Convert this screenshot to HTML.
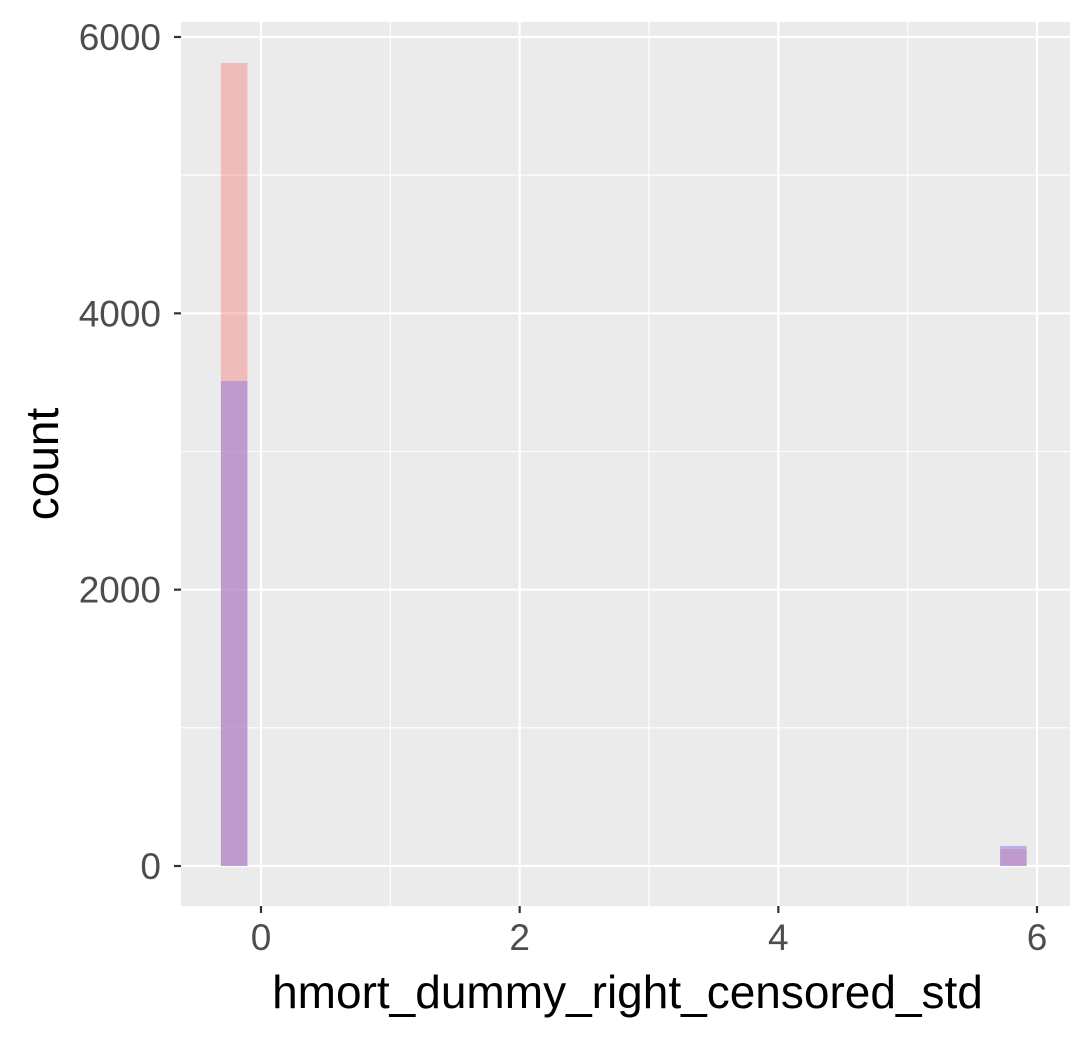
<!DOCTYPE html>
<html><head><meta charset="utf-8"><style>
body{margin:0;background:#fff}
svg text{font-family:"Liberation Sans",sans-serif}
</style></head><body>
<svg id="chart" width="1090" height="1040"></svg>
<script>
const binStarts=[-0.31,5.715];
const binWidth=0.205;
const series1Counts=[5812,123];
const series2Counts=[3510,145];
const xTicks=[0,2,4,6];
const yTicks=[0,2000,4000,6000];
const X0=181,X1=1070,Y0=22,Y1=906;
const xs=v=>261+(v-0)*(1037-261)/6;
const ys=v=>866-v*(866-37)/6000;
const svg=document.getElementById('chart');
const NS='http://www.w3.org/2000/svg';
function mk(t,a,p){const e=document.createElementNS(NS,t);for(const k in a)e.setAttribute(k,a[k]);(p||svg).appendChild(e);return e;}
const bg=mk('rect',{x:X0,y:Y0,width:X1-X0,height:Y1-Y0,fill:'#EBEBEB'});


[1,3,5].forEach(v=>{const l=mk('line',{x1:xs(v),x2:xs(v),y1:Y0,y2:Y1,stroke:'#fff','stroke-width':1.1});

});
[1000,3000,5000].forEach(v=>{const l=mk('line',{x1:X0,x2:X1,y1:ys(v),y2:ys(v),stroke:'#fff','stroke-width':1.1});

});
xTicks.forEach(v=>{const l=mk('line',{x1:xs(v),x2:xs(v),y1:Y0,y2:Y1,stroke:'#fff','stroke-width':2.2});


const t=mk('line',{x1:xs(v),x2:xs(v),y1:Y1,y2:Y1+7,stroke:'#333','stroke-width':2.2});


const tx=mk('text',{x:xs(v),y:Y1+44,'text-anchor':'middle','font-size':37,fill:'#4D4D4D'});tx.textContent=v;

});
yTicks.forEach(v=>{const l=mk('line',{x1:X0,x2:X1,y1:ys(v),y2:ys(v),stroke:'#fff','stroke-width':2.2});


const t=mk('line',{x1:X0-7,x2:X0,y1:ys(v),y2:ys(v),stroke:'#333','stroke-width':2.2});


const tx=mk('text',{x:X0-20,y:ys(v)+13,'text-anchor':'end','font-size':37,fill:'#4D4D4D'});tx.textContent=v;

});
binStarts.forEach((b,i)=>{const r=mk('rect',{x:xs(b),width:xs(b+binWidth)-xs(b),y:ys(series1Counts[i]),height:ys(0)-ys(series1Counts[i]),fill:'rgb(248,118,109)','fill-opacity':0.4});

});
binStarts.forEach((b,i)=>{const r=mk('rect',{x:xs(b),width:xs(b+binWidth)-xs(b),y:ys(series2Counts[i]),height:ys(0)-ys(series2Counts[i]),fill:'rgb(140,120,230)','fill-opacity':0.5});

});
const xt=mk('text',{x:(X0+X1)/2+2,y:1008,'text-anchor':'middle','font-size':46,fill:'#000'});xt.textContent='hmort_dummy_right_censored_std';


const yt=mk('text',{x:0,y:0,'text-anchor':'middle','font-size':46,fill:'#000',transform:`translate(58,${(Y0+Y1)/2}) rotate(-90)`});yt.textContent='count';


</script>
</body></html>
